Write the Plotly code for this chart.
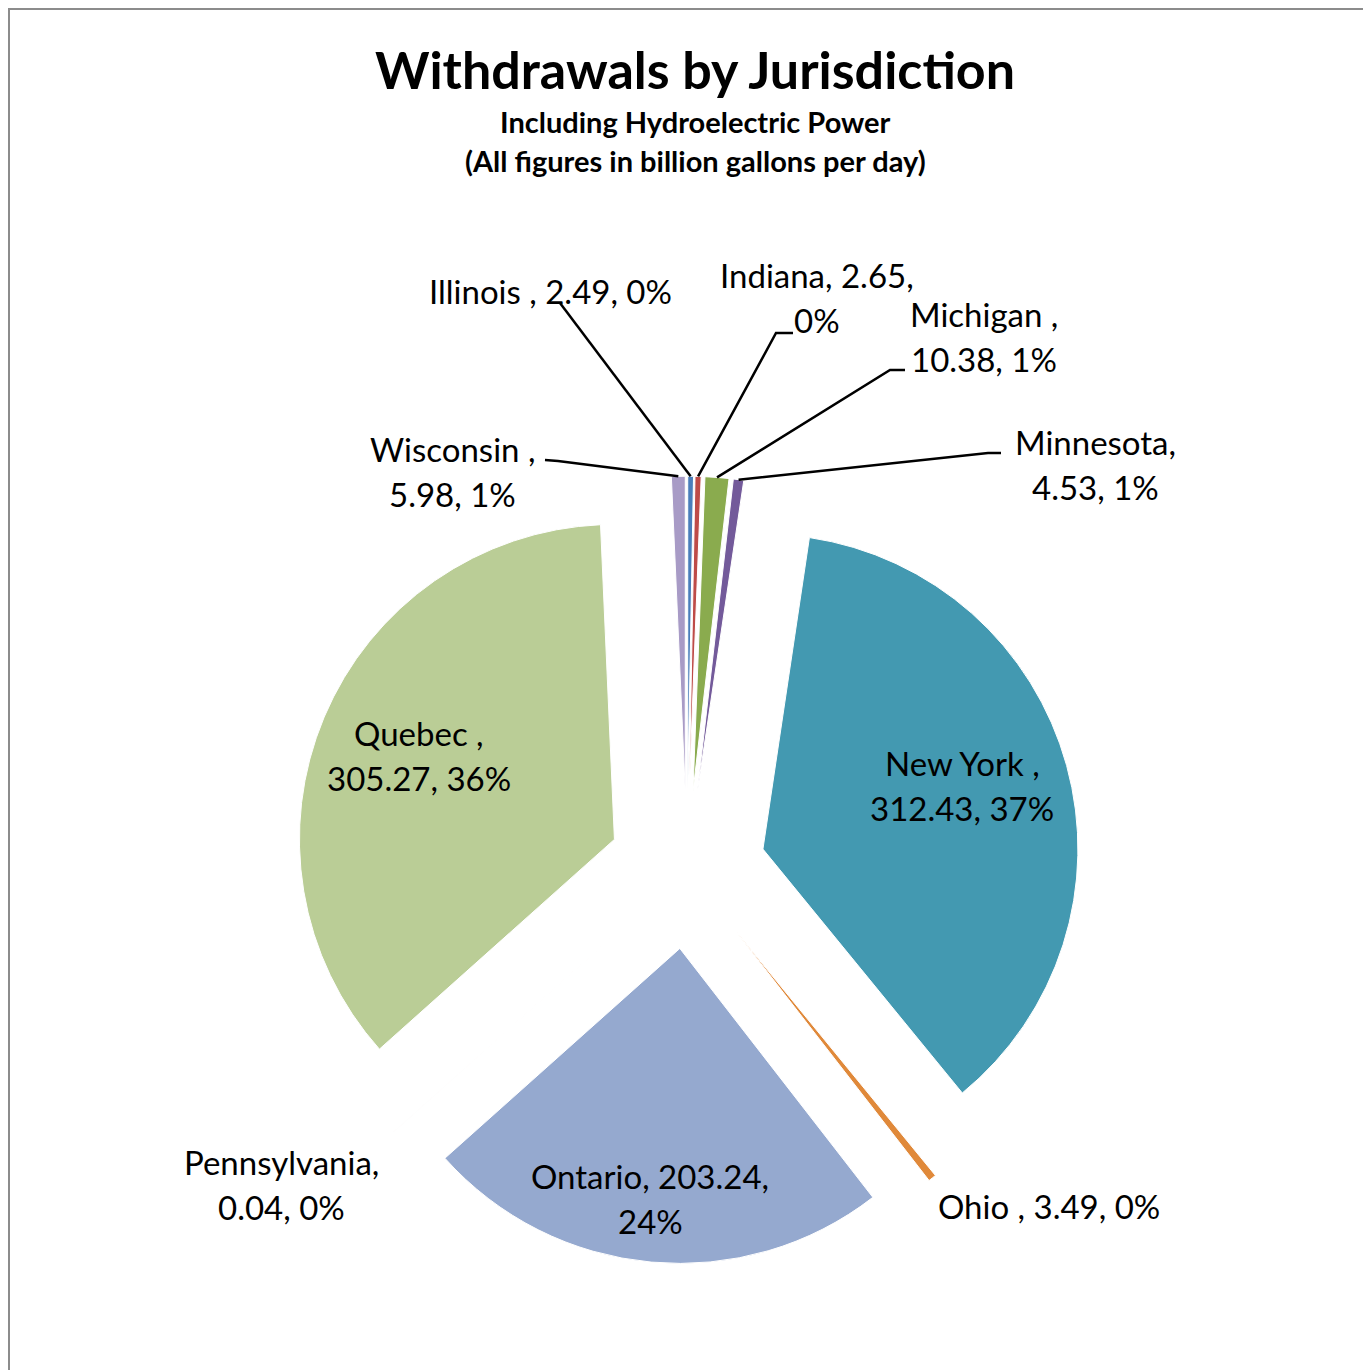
import math

import plotly.graph_objects as go

# data, in chart order (clockwise from 12 o'clock)
jurisdictions = ["Illinois ", "Indiana", "Michigan ", "Minnesota", "New York ",
                 "Ohio ", "Ontario", "Pennsylvania", "Quebec ", "Wisconsin "]
withdrawals = [2.49, 2.65, 10.38, 4.53, 312.43, 3.49, 203.24, 0.04, 305.27, 5.98]
colors = ["#4A7EBB", "#BE4B48", "#8AAB4E", "#735A9A", "#4399B1",
          "#E0893A", "#95A9CF", "#D99694", "#BACD96", "#A89BC6"]

title = "Withdrawals by Jurisdiction"
subtitle = ["Including Hydroelectric Power", "(All figures in billion gallons per day)"]

W, H = 1371, 1370
OFF = 8                # page body margin
CX, CY = 687, 870      # pie centre (page px)
R = 315                # slice radius (px)
PULL = 0.25            # explosion
FONT = "Lato"
LABEL_SIZE = 33

# label placement: centre of first line (page px) and where to wrap
# wrap 0 = one line, 1 = after the name, 2 = after the value
label_pos = {
    "Illinois ": (550, 291, 0),
    "Indiana": (817, 275, 2),
    "Michigan ": (984, 314, 1),
    "Minnesota": (1095, 442, 1),
    "New York ": (962, 763, 1),
    "Ohio ": (1049, 1206, 0),
    "Ontario": (650, 1176, 2),
    "Pennsylvania": (281, 1162, 1),
    "Quebec ": (419, 733, 1),
    "Wisconsin ": (452, 449, 1),
}
# leader lines: start point and elbow (page px)
leaders = {
    "Illinois ": [(560, 303)],
    "Indiana": [(793, 333), (776, 333)],
    "Michigan ": [(905, 370), (890, 370)],
    "Minnesota": [(1001, 453), (988, 453)],
    "Wisconsin ": [(545, 460), (558, 461)],
}


def px(x):
    return (x - OFF) / W


def py(y):
    return 1 - (y - OFF) / H


total = sum(withdrawals)
S = 2 * R * (1 + PULL)

fig = go.Figure(
    go.Pie(
        labels=jurisdictions,
        values=withdrawals,
        sort=False,
        direction="clockwise",
        rotation=0,
        pull=[PULL] * len(withdrawals),
        marker=dict(colors=colors, line=dict(color="white", width=1)),
        textinfo="none",
        hoverinfo="label+value+percent",
        domain=dict(x=[px(CX - S / 2), px(CX + S / 2)],
                    y=[py(CY + S / 2), py(CY - S / 2)]),
    )
)

annotations = []
shapes = []

# labels
cum = 0
for name, val in zip(jurisdictions, withdrawals):
    mid = (cum + val / 2) / total * 2 * math.pi
    cum += val
    pct = round(val / total * 100)
    first, second = f"{name},", f"{val:.2f}, {pct}%"
    x, y, wrap = label_pos[name]
    if wrap == 0:
        lines = [f"{first} {second}"]
    elif wrap == 1:
        lines = [first, second]
    else:
        lines = [f"{first} {val:.2f},", f"{pct}%"]
    for i, ln in enumerate(lines):
        annotations.append(dict(
            x=px(x), y=py(y + 45 * i), xref="paper", yref="paper",
            text=ln, showarrow=False, xanchor="center", yanchor="middle",
            font=dict(family=FONT, size=LABEL_SIZE, color="black"),
        ))
    if name in leaders:
        tip = (CX + (R * (1 + PULL)) * math.sin(mid), CY - (R * (1 + PULL)) * math.cos(mid))
        pts = leaders[name] + [tip]
        path = "M " + " L ".join(f"{px(a):.5f},{py(b):.5f}" for a, b in pts)
        shapes.append(dict(type="path", path=path, xref="paper", yref="paper",
                           line=dict(color="black", width=2.5)))

# title
annotations.append(dict(x=px(695), y=py(69), xref="paper", yref="paper", text=f"<b>{title}</b>",
                        showarrow=False, xanchor="center", yanchor="middle",
                        font=dict(family=FONT, size=52, color="black")))
for i, s in enumerate(subtitle):
    annotations.append(dict(x=px(695), y=py(122 + 38 * i), xref="paper", yref="paper",
                            text=f"<b>{s}</b>", showarrow=False, xanchor="center", yanchor="middle",
                            font=dict(family=FONT, size=29, color="black")))

# chart border (top and left edge visible)
shapes.append(dict(type="line", xref="paper", yref="paper", x0=0, x1=1, y0=py(9), y1=py(9),
                   line=dict(color="#8C8C8C", width=2)))
shapes.append(dict(type="line", xref="paper", yref="paper", x0=px(9), x1=px(9), y0=py(8), y1=0,
                   line=dict(color="#8C8C8C", width=2)))

fig.update_layout(
    width=W, height=H,
    margin=dict(l=0, r=0, t=0, b=0),
    paper_bgcolor="white",
    plot_bgcolor="white",
    showlegend=False,
    annotations=annotations,
    shapes=shapes,
)

fig.write_html("out.html")
